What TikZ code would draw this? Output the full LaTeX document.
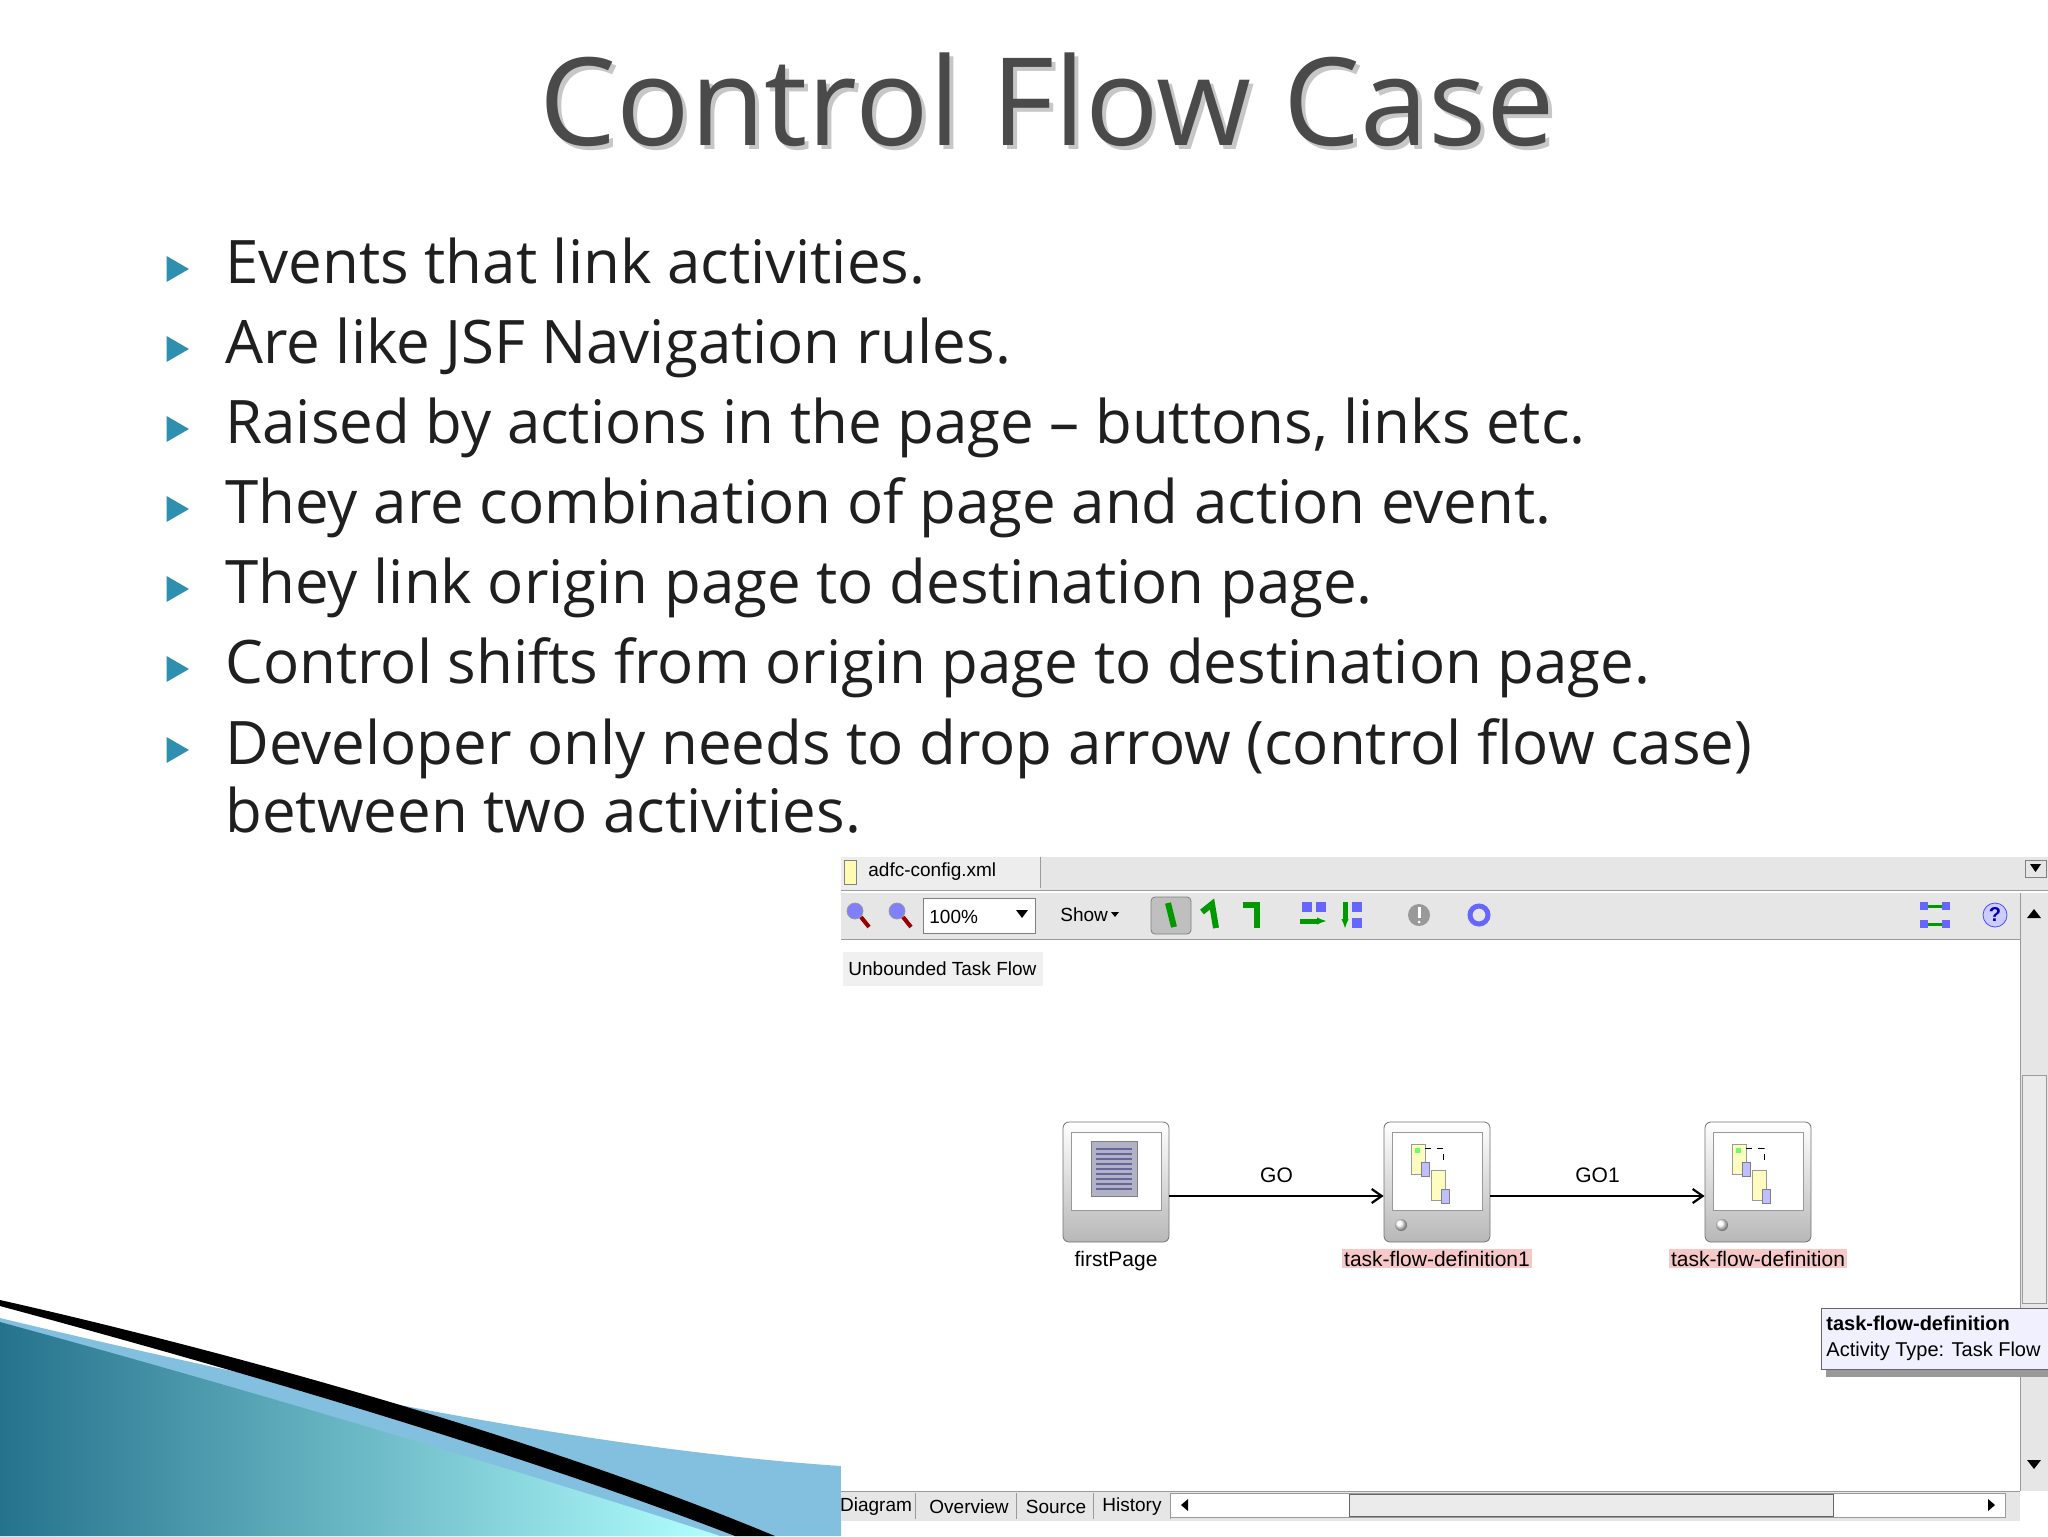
\documentclass[tikz,border=0pt]{standalone}
\usepackage{fontspec}
\setmainfont{Open Sans}
\newfontfamily\uifont{Liberation Sans}
\usetikzlibrary{arrows.meta,shapes.geometric}
\definecolor{bul}{HTML}{2E8FB0}
\definecolor{ttl}{HTML}{4A4A4A}
\definecolor{uigray}{HTML}{E6E6E6}
\definecolor{uiedge}{HTML}{9A9A9A}
\definecolor{pinkbg}{HTML}{F8C8C8}
\tikzset{
  bullet/.style={fill=bul,regular polygon,regular polygon sides=3,shape border rotate=-90,inner sep=0pt,minimum size=15pt},
  btext/.style={anchor=base west,font=\fontsize{30}{36}\selectfont,text=black!88,inner sep=0},
  ui/.style={font=\uifont\fontsize{9.5}{11}\selectfont,inner sep=1pt},
  act/.style={draw=black!55,rounded corners=3pt,top color=white,bottom color=black!28,minimum width=53pt,minimum height=60pt,inner sep=0},
  flow/.style={-{Straight Barb[length=5pt,width=7pt]},line width=1.1pt},
  lbl/.style={ui,font=\uifont\fontsize{10.5}{12}\selectfont,anchor=north},
}
\begin{document}
\begin{tikzpicture}[x=0.5pt,y=-0.5pt]
\useasboundingbox (0,0) rectangle (2048,1536);
\fill[white] (0,0) rectangle (2048,1536);
% swoosh
\fill[cyan!45!bul!60] (0,1318) .. controls (300,1390) and (600,1450) .. (841,1466) -- (841,1536) -- (0,1536) -- cycle;
\shade[left color=bul!80!black,right color=cyan!30] (0,1322) .. controls (250,1390) and (550,1480) .. (720,1536) -- (0,1536) -- cycle;
\fill[black] (0,1300) .. controls (200,1345) and (520,1430) .. (775,1536) -- (735,1536) .. controls (500,1445) and (200,1360) .. (0,1306) -- cycle;
% title
\node[font=\fontsize{61}{66}\selectfont,text=black!22] at (1051,104) {Control Flow Case};
\node[font=\fontsize{61}{66}\selectfont,text=ttl] (title) at (1047,100) {Control Flow Case};
% bullets
\foreach \y/\t [count=\i] in {263/Events that link activities.,
  343/Are like JSF Navigation rules.,
  423/{Raised by actions in the page – buttons, links etc.},
  503/They are combination of page and action event.,
  583/They link origin page to destination page.,
  663/Control shifts from origin page to destination page.,
  744/Developer only needs to drop arrow (control flow case)}{
  \node[bullet] (b\i) at (174,\y+6) {};
  \node[btext] (t\i) at (225,\y+20) {\t};
}
\node[btext] (t8) at (225,812+20) {between two activities.};
% screenshot panel
\fill[white] (841,857) rectangle (2048,1521);
\fill[uigray] (841,857) rectangle (2048,890);
\fill[uigray!70] (841,857) rectangle (1040,890);
\draw[uiedge] (1040,857) -- (1040,888);
\draw[uiedge] (841,890) -- (2048,890);
\node[ui,anchor=west] (file) at (866,872) {adfc-config.xml};
\draw[black!50,fill=yellow!30] (844,860) rectangle (856,884);
\draw[black!50] (2025,860) rectangle (2046,877);
\fill[black] (2030,864) -- (2041,864) -- (2035.5,872) -- cycle;
% toolbar
\fill[uigray] (841,893) rectangle (2020,939);
\draw[uiedge] (841,939) -- (2020,939);
\draw[black!40,fill=blue!50] (855,911) circle (8);
\draw[black!40,fill=blue!50] (897,911) circle (8);
\draw[red!60!black,line width=2] (861,917) -- (869,927);
\draw[red!60!black,line width=2] (903,917) -- (911,927);
\draw[black!50,fill=white] (923,898) rectangle (1035,933);
\node[ui,anchor=west] (zoomv) at (927,917) {100\%};
\fill[black] (1016,910) -- (1028,910) -- (1022,918) -- cycle;
\node[ui,anchor=west] (show) at (1058,915) {Show};
\fill[black] (1111,912) -- (1119,912) -- (1115,917) -- cycle;
\draw[black!50,fill=black!25,rounded corners=2] (1151,897) rectangle (1191,934);
\draw[green!60!black,line width=3] (1168,903) -- (1174,927);
\draw[green!60!black,line width=3] (1202,912) -- (1212,904) -- (1216,928);
\draw[green!60!black,line width=3] (1243,905) -- (1257,905) -- (1257,928);
\fill[blue!60] (1302,902) rectangle (1312,912); \fill[blue!60] (1316,902) rectangle (1326,912);
\draw[green!60!black,line width=2.5,-{Latex[length=5pt]}] (1300,921) -- (1327,921);
\draw[green!60!black,line width=2.5,-{Latex[length=5pt]}] (1345,902) -- (1345,929);
\fill[blue!60] (1352,902) rectangle (1362,912); \fill[blue!60] (1352,918) rectangle (1362,928);
\fill[black!40] (1419,915) circle (11); \fill[white] (1417.5,907) rectangle (1420.5,918); \fill[white] (1419,922) circle (1.5);
\draw[blue!60,line width=2.5] (1479,915) circle (9);
\fill[blue!60] (1920,902) rectangle (1928,910); \fill[blue!60] (1920,920) rectangle (1928,928);
\draw[green!60!black,line width=1.5] (1928,906) -- (1942,906) (1928,924) -- (1942,924);
\fill[blue!60] (1942,902) rectangle (1950,910); \fill[blue!60] (1942,920) rectangle (1950,928);
\draw[blue!70,fill=blue!20] (1995,915) circle (12);
\node[font=\uifont\bfseries\fontsize{10}{11}\selectfont,text=blue!70!black] (help) at (1995,915) {?};
% right scrollbar
\fill[uigray] (2020,893) rectangle (2048,1491);
\draw[uiedge] (2020,893) -- (2020,1491);
\fill[black] (2027,918) -- (2041,918) -- (2034,909) -- cycle;
\fill[black!8] (2022,1075) rectangle (2046,1303);
\draw[uiedge] (2022,1075) rectangle (2046,1303);
\fill[black] (2027,1460) -- (2041,1460) -- (2034,1469) -- cycle;
% label
\fill[black!6] (843,952) rectangle (1043,986);
\node[ui,anchor=west] (utf) at (846,969) {Unbounded Task Flow};
% activities
\node[act] (fp) at (1116,1182) {};
\node[act] (tf1) at (1437,1182) {};
\node[act] (tf2) at (1758,1182) {};
\foreach \cx in {1116,1437,1758}{
  \draw[black!40,fill=white] (\cx-45,1132) rectangle (\cx+45,1210);
}
\draw[black!50,fill=blue!25!black!30] (1091,1141) rectangle (1137,1196);
\foreach \k in {0,...,8} \draw[blue!35!black!60,line width=1.2] (1096,1149+5*\k) -- (1132,1149+5*\k);
\foreach \cx in {1437,1758}{
  \draw[black!40,fill=yellow!25] (\cx-26,1144) rectangle (\cx-12,1174);
  \draw[black!40,fill=yellow!25] (\cx-6,1170) rectangle (\cx+8,1200);
  \fill[green!60] (\cx-22,1148) rectangle (\cx-17,1153);
  \draw[black!50,fill=blue!25] (\cx-16,1162) rectangle (\cx-8,1176);
  \draw[black!50,fill=blue!25] (\cx+4,1189) rectangle (\cx+12,1203);
  \draw[black,dashed] (\cx-12,1148) -- (\cx+6,1148) -- (\cx+6,1164);
  \shade[ball color=white] (\cx-36,1225) circle (6);
}
\draw[flow] ([yshift=-7pt]fp.east) -- ([yshift=-7pt]tf1.west) node[midway,above=5pt,ui,font=\uifont\fontsize{10.5}{12}\selectfont] (go) {GO};
\draw[flow] ([yshift=-7pt]tf1.east) -- ([yshift=-7pt]tf2.west) node[midway,above=5pt,ui,font=\uifont\fontsize{10.5}{12}\selectfont] (go1) {GO1};
\node[lbl] (fpl) at ([yshift=-3pt]fp.south) {firstPage};
\node[lbl,fill=pinkbg] (tf1l) at ([yshift=-3pt]tf1.south) {task-flow-definition1};
\node[lbl,fill=pinkbg] (tf2l) at ([yshift=-3pt]tf2.south) {task-flow-definition};
% tooltip
\fill[black!40] (1826,1318) rectangle (2048,1377);
\draw[black!60,fill=blue!6] (1821,1308) rectangle (2060,1369);
\begin{scope}
\clip (1821,1300) rectangle (2048,1380);
\node[ui,anchor=west,font=\uifont\bfseries\fontsize{10}{12}\selectfont] (tt1) at (1824,1323) {task-flow-definition};
\node[ui,anchor=west,font=\uifont\fontsize{10}{12}\selectfont] (tt2) at (1824,1351) {Activity Type: Task Flow};
\end{scope}
% bottom bar
\fill[uigray] (841,1491) rectangle (2020,1521);
\draw[uiedge] (841,1491) -- (2020,1491);
\foreach \x/\t in {876/Diagram,969/Overview,1056/Source,1132/History}{
  \node[ui,font=\uifont\fontsize{9.5}{11}\selectfont] at (\x,1507) {\t};
}
\foreach \x in {915,1016,1093,1170} \draw[uiedge] (\x,1493) -- (\x,1519);
\draw[uiedge,fill=white] (1170,1493) rectangle (2005,1517);
\fill[black] (1188,1499) -- (1188,1511) -- (1181,1505) -- cycle;
\fill[black!8] (1349,1494) rectangle (1833,1516);
\draw[black!60] (1349,1494) rectangle (1833,1516);
\fill[black] (1988,1499) -- (1988,1511) -- (1995,1505) -- cycle;
\end{tikzpicture}
\end{document}
